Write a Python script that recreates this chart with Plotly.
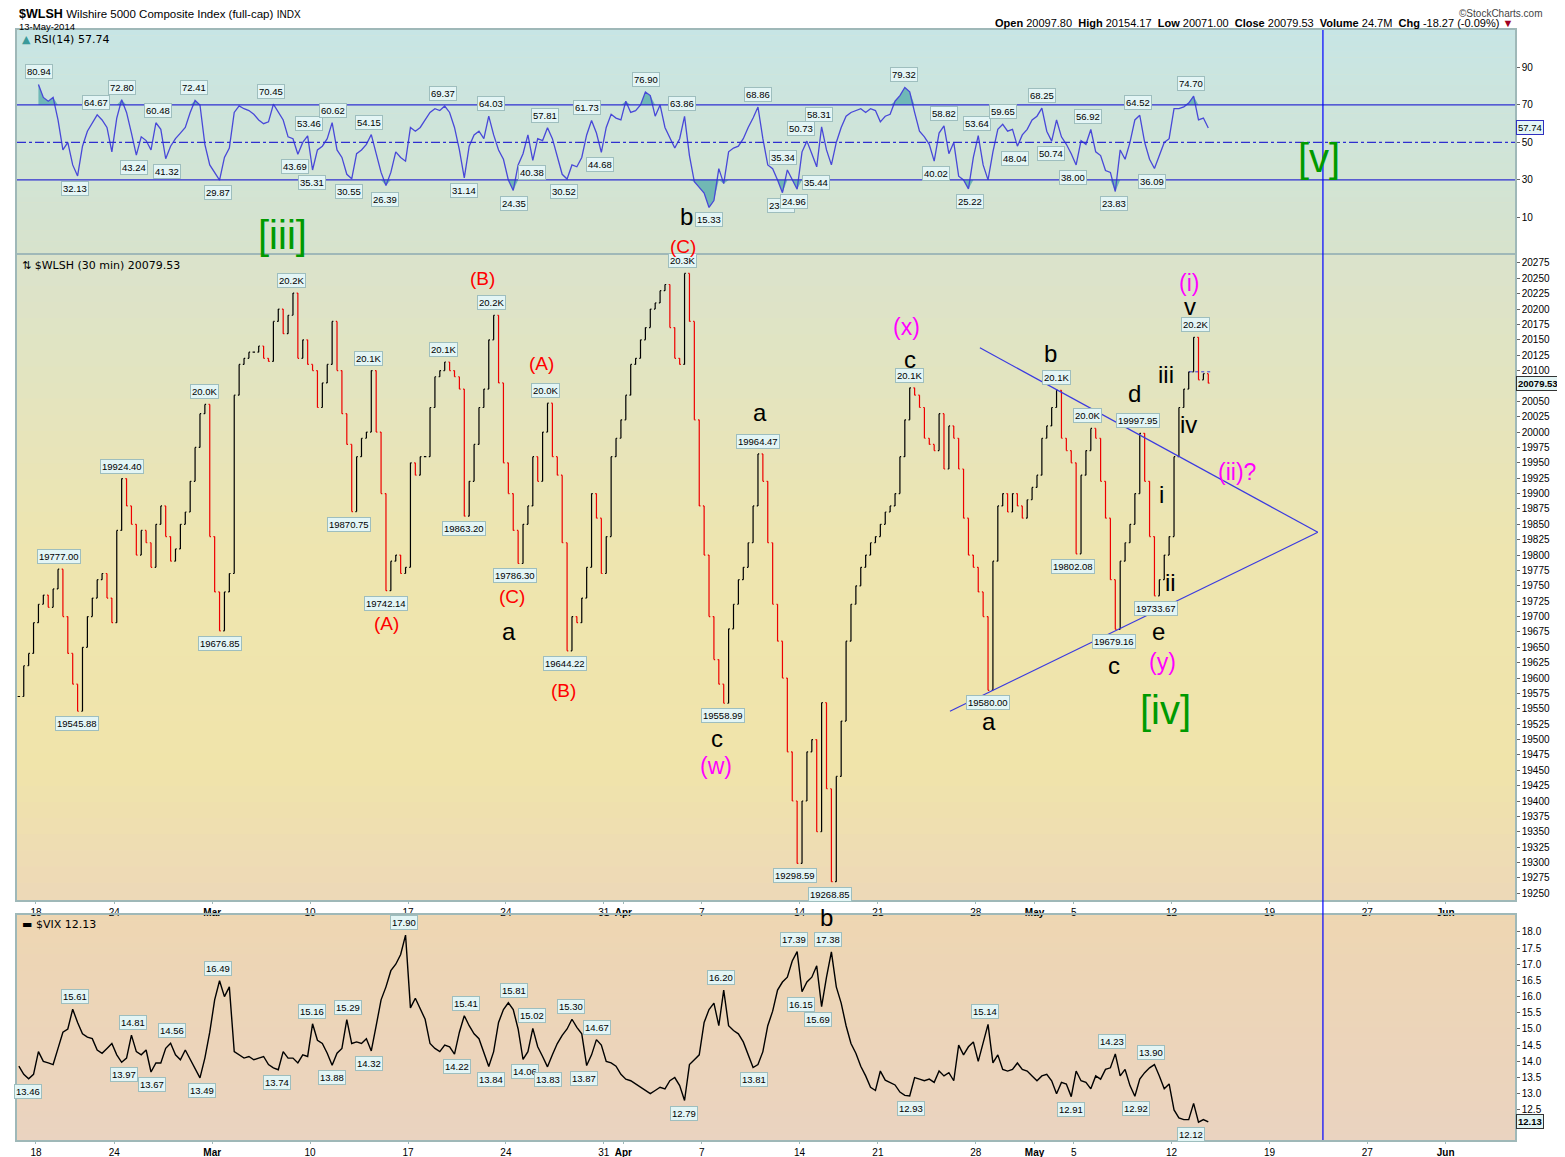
import numpy as np
import plotly.graph_objects as go

# trading-day index: 0 = 18 Feb 2014 (holidays skipped), four samples read per session
first_day = -1

# $WLSH 30-min closes, 4 per session, 14 Feb .. 13 May
wlsh_close = [
    19570, 19620, 19640, 19690,
    19720, 19735, 19715, 19745, 19777, 19700, 19640, 19590, 19546, 19650, 19700, 19730,
    19760, 19770, 19730, 19690,
    19840, 19924.40, 19880, 19850, 19800, 19840, 19820, 19780, 19850, 19880, 19830, 19790,
    19810, 19850, 19870, 19920, 19975, 20030, 20045, 19830,
    19740, 19676.85, 19740, 19770, 20060, 20110, 20120, 20130, 20130, 20140, 20120, 20115,
    20180, 20200, 20160, 20190, 20226, 20120, 20150, 20110,
    20100, 20040, 20080, 20110, 20180, 20100, 20030, 19980, 19870.75, 19960, 19990, 20000,
    20100, 20000, 19900, 19742.14, 19790, 19800, 19770, 19780,
    19950, 19930, 19960, 19960, 20040, 20090, 20100, 20114, 20100, 20090, 20070, 19863.20,
    19920, 19980, 20040, 20070, 20150, 20190, 20080, 19950,
    19900, 19840, 19786.30, 19850, 19880, 19960, 19920, 20000, 20047, 19960, 19930, 19820,
    19644.22, 19700, 19690, 19730, 19780, 19900, 19860, 19770,
    19830, 19960, 19990, 20020, 20060, 20110, 20120, 20150, 20170, 20200, 20210, 20230,
    20240, 20170, 20120, 20110, 20258, 20180, 20020, 19880,
    19800, 19700, 19630, 19590, 19558.99, 19680, 19720, 19760, 19780, 19820, 19880, 19964.47,
    19920, 19820, 19720, 19660, 19600, 19480, 19400, 19298.59,
    19400, 19480, 19500, 19350, 19560, 19420, 19268.85, 19440, 19530, 19660, 19720, 19750,
    19780, 19800, 19820, 19830,
    19850, 19870, 19880, 19900, 19960, 20020, 20072, 20060, 20040, 19990, 19980, 19970,
    20030, 19940, 20010, 19990, 19940, 19860, 19800, 19780,
    19740, 19700, 19580.00, 19790, 19880, 19900, 19870, 19900, 19880, 19860, 19890, 19910,
    19930, 19990, 20010, 20040, 20068, 19990, 19970, 19950,
    19802.08, 19930, 19970, 20006, 19990, 19920, 19860, 19760, 19679.16, 19790, 19820, 19850,
    19900, 19997.95, 19920, 19830, 19733.67, 19760, 19800, 19830,
    19960, 20040, 20070, 20098, 20154.17, 20085, 20095, 20079.53,
]

# RSI(14) on the 30-min bars, 4 per session, 18 Feb .. 13 May
rsi14 = [
    80.9, 74, 72, 74, 62, 46, 50, 38, 32.1, 48, 56, 60, 64.7, 62, 58, 45,
    63, 72.8, 66, 55, 43.2, 53, 51, 46, 60.5, 57, 41.3, 48, 52, 55, 58, 66, 72.4, 70, 49, 38,
    34, 29.9, 42, 47, 66, 69.5, 68, 67, 65, 62, 60, 61, 70.4, 66, 62, 53, 52, 43.7, 50, 53.5,
    35.3, 46, 48, 52, 60.6, 46, 42, 33, 30.6, 44, 46, 49, 54.2, 44, 34, 27, 34, 45, 42, 40,
    58, 56, 58, 62, 66, 68, 67, 69.4, 66, 58, 46, 31.1, 48, 54, 56, 52, 64, 54, 46, 41,
    30, 24.4, 38, 44, 54, 40.4, 52, 51, 57.8, 52, 42, 33, 30.5, 38, 37, 42, 54, 61.7, 55, 44.7,
    58, 65, 63, 62, 72, 66, 67, 70, 76.9, 75, 64, 70, 58, 52, 47, 52, 63.9, 43, 29, 26,
    23, 15.3, 19, 36, 28, 45, 47, 48, 52, 58, 63, 68.9, 52, 38, 36, 30, 23.2, 35.3, 30, 25,
    45, 50.7, 44, 37, 58.3, 46, 38, 50, 58, 64, 66, 67, 68, 66, 68, 67,
    61, 64, 65, 72, 75, 79.3, 77, 66, 56, 53, 49, 40, 55, 58.8, 44, 50, 32, 30, 25.2, 42,
    53.6, 38, 30, 45, 57, 59.7, 56, 57, 48, 54, 57, 62, 64, 68.3, 56, 50.7, 62, 53, 49, 44,
    38, 51, 49, 56.9, 45, 43, 35, 34, 23.8, 46, 41, 50, 62, 64.5, 50, 41, 36.1, 43, 50, 52,
    68, 68, 69, 71, 74.7, 62, 63, 57.74,
]

# $VIX, 4 per session, 14 Feb .. 13 May
vix_close = [
    13.85, 13.6, 13.46, 13.6,
    14.3, 14.0, 13.95, 13.9, 14.4, 14.9, 15.0, 15.61, 15.2, 14.85, 14.75, 14.7,
    14.35, 14.25, 14.4, 14.55,
    14.2, 13.97, 14.1, 14.81, 14.3, 14.2, 14.35, 13.67, 13.95, 13.95, 14.4, 14.56,
    14.2, 14.05, 14.35, 14.05, 13.75, 13.49, 14.1, 14.9,
    15.9, 16.49, 16.0, 16.3, 14.3, 14.2, 14.1, 14.15, 14.05, 14.1, 14.15, 13.9,
    13.8, 13.74, 14.3, 14.1, 14.1, 13.95, 14.2, 14.15,
    15.16, 14.65, 14.55, 14.25, 13.88, 14.25, 14.4, 15.29, 14.55, 14.6, 14.55, 14.7,
    14.32, 15.1, 15.9, 16.3, 16.8, 17.0, 17.3, 17.9,
    15.65, 15.95, 15.6, 15.3, 14.55, 14.4, 14.3, 14.5, 14.45, 14.22, 14.9, 15.41,
    15.1, 14.85, 14.7, 14.3, 13.84, 14.3, 15.2, 15.6,
    15.81, 15.6, 15.0, 14.06, 14.3, 15.02, 14.45, 14.15, 13.83, 14.2, 14.55, 14.8,
    15.0, 15.3, 15.05, 14.85, 13.87, 14.2, 14.67, 14.5,
    14.0, 13.95, 13.85, 13.6, 13.45, 13.4, 13.3, 13.2, 13.1, 13.0, 13.1, 13.2,
    13.15, 13.4, 13.5, 13.25, 12.79, 13.9, 14.05, 14.2,
    15.2, 15.6, 15.8, 15.1, 16.2, 15.1, 14.95, 14.85, 14.6, 14.2, 13.81, 13.9,
    14.3, 15.1, 15.55, 16.2, 16.45, 16.6, 17.1, 17.39,
    16.15, 16.45, 16.6, 16.95, 15.69, 16.6, 17.38, 16.3, 15.8, 15.1, 14.55, 14.25,
    13.85, 13.55, 13.2, 13.1,
    13.7, 13.42, 13.35, 13.27, 13.05, 12.95, 12.93, 13.5, 13.45, 13.4, 13.45, 13.35,
    13.7, 13.55, 13.65, 13.4, 14.5, 14.2, 14.45, 14.6,
    14.0, 14.6, 15.14, 13.95, 14.2, 13.75, 13.7, 13.75, 13.95, 13.75, 13.7, 13.55,
    13.4, 13.55, 13.6, 13.4, 13.0, 13.35, 13.3, 12.91,
    13.7, 13.4, 13.35, 13.15, 13.55, 13.45, 13.75, 13.8, 14.23, 13.55, 13.75, 13.25,
    12.92, 13.45, 13.65, 13.8, 13.9, 13.55, 13.15, 13.3,
    12.5, 12.25, 12.2, 12.2, 12.7, 12.12, 12.2, 12.13,
]

tick_days = [0, 4, 9, 14, 19, 24, 29, 30, 34, 39, 43, 48, 51, 53, 58, 63, 68, 72]
tick_text = ["18", "24", "<b>Mar</b>", "10", "17", "24", "31", "<b>Apr</b>", "7", "14",
             "21", "28", "<b>May</b>", "5", "12", "19", "27", "<b>Jun</b>"]

# labelled swing points
price_peak_day = [1.17, 4.39, 8.63, 13.07, 17.0, 20.79, 23.29, 26.0, 33.0, 36.9, 44.6, 52.1, 53.7, 56.3, 59.2]
price_peak_val = [19777.00, 19924.40, 20045, 20226, 20100, 20114, 20190, 20047, 20258, 19964.47,
                  20072, 20068, 20006, 19997.95, 20154.17]
price_low_day = [2.09, 9.4, 15.99, 17.88, 21.86, 24.46, 27.0, 35.1, 38.76, 40.55, 48.62, 52.96, 55.06, 57.2]
price_low_val = [19545.88, 19676.85, 19870.75, 19742.14, 19863.20, 19786.30, 19644.22, 19558.99,
                 19298.59, 19268.85, 19580.00, 19802.08, 19679.16, 19733.67]

rsi_peak_day = [0.15, 3.06, 4.39, 6.23, 8.07, 12.0, 13.94, 15.17, 17.01, 20.79, 23.24, 26.0, 28.14,
                31.15, 32.99, 36.87, 38.15, 39.07, 39.99, 44.33, 46.37, 48.06, 49.39, 51.38, 53.73,
                56.28, 58.99]
rsi_peak_val = [80.94, 64.67, 72.80, 60.48, 72.41, 70.45, 53.46, 60.62, 54.15, 69.37, 64.03, 57.81,
                61.73, 76.90, 63.86, 68.86, 35.34, 50.73, 58.31, 79.32, 58.82, 53.64, 59.65, 68.25,
                56.92, 64.52, 74.70]
rsi_low_day = [1.99, 5.0, 6.69, 9.3, 13.23, 14.1, 15.99, 17.82, 21.86, 24.41, 25.33, 26.97, 28.8,
               34.37, 38.05, 38.71, 39.84, 45.97, 47.7, 50.0, 51.84, 52.96, 55.06, 57.0]
rsi_low_val = [32.13, 43.24, 41.32, 29.87, 43.69, 35.31, 30.55, 26.39, 31.14, 24.35, 40.38, 30.52,
               44.68, 15.33, 23.21, 24.96, 35.44, 40.02, 25.22, 48.04, 50.74, 38.00, 23.83, 36.09]

vix_peak_day = [1.99, 4.95, 6.95, 9.3, 14.1, 15.93, 18.79, 21.96, 24.41, 25.33, 27.32, 28.65, 34.98,
                38.71, 40.45, 48.47, 54.95, 56.95]
vix_peak_val = [15.61, 14.81, 14.56, 16.49, 15.16, 15.29, 17.90, 15.41, 15.81, 15.02, 15.30, 14.67,
                16.20, 17.39, 17.38, 15.14, 14.23, 13.90]
vix_low_day = [-0.41, 4.49, 5.92, 8.48, 12.31, 15.12, 17.0, 21.5, 23.24, 24.97, 26.15, 27.99, 33.1,
               36.67, 39.07, 39.94, 44.69, 52.86, 56.18, 58.99]
vix_low_val = [13.46, 13.97, 13.67, 13.49, 13.74, 13.88, 14.32, 14.22, 13.84, 14.06, 13.83, 13.87,
               12.79, 13.81, 16.15, 15.69, 12.93, 12.91, 12.92, 12.12]

GREEN, RED, MAG, BLK = "#009a00", "#ff0000", "#ff00ff", "#000000"
FONT = "Liberation Sans"

x_price = first_day + (np.arange(len(wlsh_close)) + 0.5) / 4
x_rsi = (np.arange(len(rsi14)) + 0.5) / 4
x_vix = first_day + (np.arange(len(vix_close)) + 0.5) / 4

close = np.array(wlsh_close)
opens = np.r_[close[0], close[:-1]]

fig = go.Figure()

# RSI overbought / oversold shading
rsi = np.array(rsi14)
fig.add_trace(go.Scatter(x=x_rsi, y=np.full(len(rsi), 70.0), mode="lines", line=dict(width=0),
                         hoverinfo="skip", xaxis="x", yaxis="y"))
fig.add_trace(go.Scatter(x=x_rsi, y=np.maximum(rsi, 70), mode="lines", line=dict(width=0),
                         fill="tonexty", fillcolor="rgba(80,170,170,0.75)", hoverinfo="skip",
                         xaxis="x", yaxis="y"))
fig.add_trace(go.Scatter(x=x_rsi, y=np.full(len(rsi), 30.0), mode="lines", line=dict(width=0),
                         hoverinfo="skip", xaxis="x", yaxis="y"))
fig.add_trace(go.Scatter(x=x_rsi, y=np.minimum(rsi, 30), mode="lines", line=dict(width=0),
                         fill="tonexty", fillcolor="rgba(80,170,170,0.75)", hoverinfo="skip",
                         xaxis="x", yaxis="y"))
fig.add_trace(go.Scatter(x=x_rsi, y=rsi, mode="lines", line=dict(color="#4848d8", width=1.3),
                         xaxis="x", yaxis="y"))

fig.add_trace(go.Ohlc(x=x_price, open=opens, close=close,
                      high=np.maximum(opens, close), low=np.minimum(opens, close),
                      increasing_line_color="black", decreasing_line_color="#ee0000",
                      line_width=1.2, tickwidth=0.25, xaxis="x2", yaxis="y2"))

fig.add_trace(go.Scatter(x=x_vix, y=vix_close, mode="lines", line=dict(color="black", width=1.4),
                         xaxis="x3", yaxis="y3"))


def gradient(yref, stops, n=40):
    out = []
    for i in range(n):
        f = (i + 0.5) / n
        for k in range(len(stops) - 1):
            p0, c0 = stops[k]
            p1, c1 = stops[k + 1]
            if p0 <= f <= p1:
                w = (f - p0) / (p1 - p0)
                c = [round(a + (b - a) * w) for a, b in zip(c0, c1)]
                break
        out.append(dict(type="rect", xref="paper", yref=yref, x0=0, x1=1,
                        y0=1 - (i + 1) / n, y1=min(1, 1 - i / n + 0.002),
                        fillcolor="rgb(%d,%d,%d)" % tuple(c), line_width=0, layer="below"))
    return out


shapes = []
shapes += gradient("y domain", [(0, (199, 229, 229)), (1, (215, 227, 204))])
shapes += gradient("y2 domain", [(0, (218, 227, 204)), (0.45, (238, 229, 176)),
                                 (0.8, (240, 228, 170)), (1, (237, 216, 184))])
shapes += gradient("y3 domain", [(0, (238, 214, 178)), (1, (234, 211, 192))])

for lvl, dash in [(70, "solid"), (50, "dashdot"), (30, "solid")]:
    shapes.append(dict(type="line", xref="paper", yref="y", x0=0, x1=1, y0=lvl, y1=lvl,
                       line=dict(color="#2f2fd0", width=1.2, dash=dash)))

# triangle trendlines and projection line
shapes.append(dict(type="line", xref="x2", yref="y2", x0=48.21, y0=20137, x1=65.47, y1=19837,
                   line=dict(color="#3a3ae0", width=1.2)))
shapes.append(dict(type="line", xref="x2", yref="y2", x0=46.68, y0=19546, x1=65.47, y1=19837,
                   line=dict(color="#3a3ae0", width=1.2)))
shapes.append(dict(type="line", xref="x2", yref="y2", x0=58.9, y0=20098, x1=60.1, y1=20098,
                   line=dict(color="#3a3ae0", width=1, dash="dot")))
shapes.append(dict(type="line", xref="x2", yref="paper", x0=65.73, x1=65.73, y0=0, y1=1,
                   line=dict(color="#0000ff", width=1.2)))


def tags(days, vals, xref, yref, above, fmt):
    out = []
    for d, v in zip(days, vals):
        out.append(dict(x=d, y=v, xref=xref, yref=yref, text=fmt(v), showarrow=False,
                        yanchor="bottom" if above else "top", yshift=5 if above else -5,
                        font=dict(size=9.5, color="black", family=FONT),
                        bgcolor="#e3f5f5", bordercolor="#9ebebe", borderwidth=1, borderpad=1))
    return out


def price_fmt(v):
    return "%.1fK" % (v / 1000) if v >= 20000 else "%.2f" % v


ann = []
ann += tags(price_peak_day, price_peak_val, "x2", "y2", True, price_fmt)
ann += tags(price_low_day, price_low_val, "x2", "y2", False, price_fmt)
ann += tags(rsi_peak_day, rsi_peak_val, "x", "y", True, lambda v: "%.2f" % v)
ann += tags(rsi_low_day, rsi_low_val, "x", "y", False, lambda v: "%.2f" % v)
ann += tags(vix_peak_day, vix_peak_val, "x3", "y3", True, lambda v: "%.2f" % v)
ann += tags(vix_low_day, vix_low_val, "x3", "y3", False, lambda v: "%.2f" % v)

# Elliott wave labels: text, day, value, panel, colour, size
waves = [
    ("[iii]", 12.6, 0.5, "y", GREEN, 40), ("b", 33.2, 10.6, "y", BLK, 24),
    ("(C)", 33.04, -5.6, "y", RED, 19), ("[v]", 65.53, 41.5, "y", GREEN, 40),
    ("(B)", 22.78, 20249, "y2", RED, 19), ("(A)", 25.84, 20112, "y2", RED, 19),
    ("(C)", 24.31, 19732, "y2", RED, 19), ("a", 24.16, 19676, "y2", BLK, 24),
    ("(A)", 17.88, 19689, "y2", RED, 19), ("(B)", 26.92, 19579, "y2", RED, 19),
    ("a", 36.98, 20032, "y2", BLK, 24), ("c", 34.78, 19501, "y2", BLK, 24),
    ("(w)", 34.73, 19457, "y2", MAG, 23), ("(x)", 44.48, 20171, "y2", MAG, 23),
    ("c", 44.64, 20118, "y2", BLK, 24), ("b", 51.84, 20127, "y2", BLK, 24),
    ("d", 56.13, 20063, "y2", BLK, 24), ("iii", 57.71, 20093, "y2", BLK, 24),
    ("v", 58.94, 20205, "y2", BLK, 24), ("(i)", 58.89, 20243, "y2", MAG, 23),
    ("iv", 58.84, 20013, "y2", BLK, 24), ("(ii)?", 61.34, 19935, "y2", MAG, 23),
    ("i", 57.46, 19899, "y2", BLK, 24), ("ii", 57.92, 19756, "y2", BLK, 24),
    ("e", 57.35, 19676, "y2", BLK, 24), ("c", 55.06, 19621, "y2", BLK, 24),
    ("(y)", 57.56, 19626, "y2", MAG, 23), ("a", 48.67, 19530, "y2", BLK, 24),
    ("[iv]", 57.71, 19548, "y2", GREEN, 40), ("b", 40.35, 18.45, "y3", BLK, 24),
]
for text, d, v, yref, col, size in waves:
    ann.append(dict(x=d, y=v, xref=yref.replace("y", "x"), yref=yref, text=text, showarrow=False,
                    font=dict(size=size, color=col, family=FONT)))

# header and panel captions
ann += [
    dict(x=0, y=1.0144, xref="paper", yref="paper", xanchor="left", yanchor="middle", showarrow=False,
         text="<b>$WLSH</b> <span style='font-size:11.5px'>Wilshire 5000 Composite Index (full-cap)</span>"
              " <span style='font-size:10px'>INDX</span>",
         font=dict(size=12.5, family=FONT, color="black")),
    dict(x=0, y=1.0032, xref="paper", yref="paper", xanchor="left", yanchor="middle", showarrow=False,
         text="13-May-2014", font=dict(size=9.5, family=FONT, color="black")),
    dict(x=1, y=1.0063, xref="paper", yref="paper", xanchor="right", yanchor="middle", showarrow=False,
         text="<b>Open</b> 20097.80&nbsp;&nbsp;<b>High</b> 20154.17&nbsp;&nbsp;<b>Low</b> 20071.00&nbsp;&nbsp;"
              "<b>Close</b> 20079.53&nbsp;&nbsp;<b>Volume</b> 24.7M&nbsp;&nbsp;<b>Chg</b> -18.27 (-0.09%) "
              "<span style='color:#a00020'>▼</span>",
         font=dict(size=11, family=FONT, color="black")),
    dict(x=1.02, y=1.0153, xref="paper", yref="paper", xanchor="right", yanchor="middle", showarrow=False,
         text="©StockCharts.com", font=dict(size=10, family=FONT, color="#444")),
    dict(x=0.002, y=0.995, xref="paper", yref="y domain", xanchor="left", yanchor="top", showarrow=False,
         text="<span style='color:#3a9a9a'>▲</span> RSI(14) 57.74", font=dict(size=11, family="DejaVu Sans", color="black")),
    dict(x=0.002, y=0.997, xref="paper", yref="y2 domain", xanchor="left", yanchor="top", showarrow=False,
         text="⇅ $WLSH (30 min) 20079.53", font=dict(size=11, family="DejaVu Sans", color="black")),
    dict(x=0.002, y=0.995, xref="paper", yref="y3 domain", xanchor="left", yanchor="top", showarrow=False,
         text="▬ $VIX 12.13", font=dict(size=11, family="DejaVu Sans", color="black")),
]

# last-value tags on the right scales
for yref, v, txt, bc in [("y", rsi14[-1], "57.74", "#3030c0"), ("y2", wlsh_close[-1], "<b>20079.53</b>", "#333"),
                         ("y3", vix_close[-1], "<b>12.13</b>", "#333")]:
    ann.append(dict(x=1, y=v, xref="paper", yref=yref, xanchor="left", xshift=1, showarrow=False,
                    text=txt, font=dict(size=9.5, family=FONT, color="black"),
                    bgcolor="#e3f5f5", bordercolor=bc, borderwidth=1, borderpad=1))

xcommon = dict(range=[-0.97, 75.54], showgrid=False, zeroline=False, showline=True, mirror=True,
               linecolor="#9fb8b8", linewidth=1.5, tickvals=tick_days, ticktext=tick_text,
               tickfont=dict(size=10, family=FONT, color="black"), ticks="outside", ticklen=2,
               tickcolor="#9fb8b8", automargin=False)
ycommon = dict(side="right", showgrid=False, zeroline=False, showline=True, mirror=True,
               linecolor="#9fb8b8", linewidth=1.5, ticks="outside", ticklen=3, tickcolor="#666",
               tickfont=dict(size=10, family=FONT, color="black"), automargin=False)

# the last-value tag covers the 20075 grid value
price_ticks = [v for v in range(19250, 20276, 25) if v != 20075]

# page body adds an 8px offset, so the figure is 8px smaller than the window
fig.update_layout(
    width=1557, height=1149,
    margin=dict(l=9, r=50, t=22, b=17, autoexpand=False),
    paper_bgcolor="white", plot_bgcolor="#ece4c0",
    showlegend=False,
    xaxis=dict(xcommon, anchor="y", showticklabels=False, ticks=""),
    xaxis2=dict(xcommon, anchor="y2", matches="x", rangeslider=dict(visible=False)),
    xaxis3=dict(xcommon, anchor="y3", matches="x"),
    yaxis=dict(ycommon, domain=[0.7991, 1.0], anchor="x", range=[-9, 110], tickvals=[10, 30, 50, 70, 90]),
    yaxis2=dict(ycommon, domain=[0.2162, 0.7973], anchor="x2", range=[19239, 20288],
                tickvals=price_ticks, tickformat="d"),
    yaxis3=dict(ycommon, domain=[0, 0.2027], anchor="x3", range=[11.57, 18.52],
                tickvals=[12.5 + 0.5 * i for i in range(12)], tickformat=".1f"),
    shapes=shapes,
    annotations=ann,
)

fig.write_html("out.html")
